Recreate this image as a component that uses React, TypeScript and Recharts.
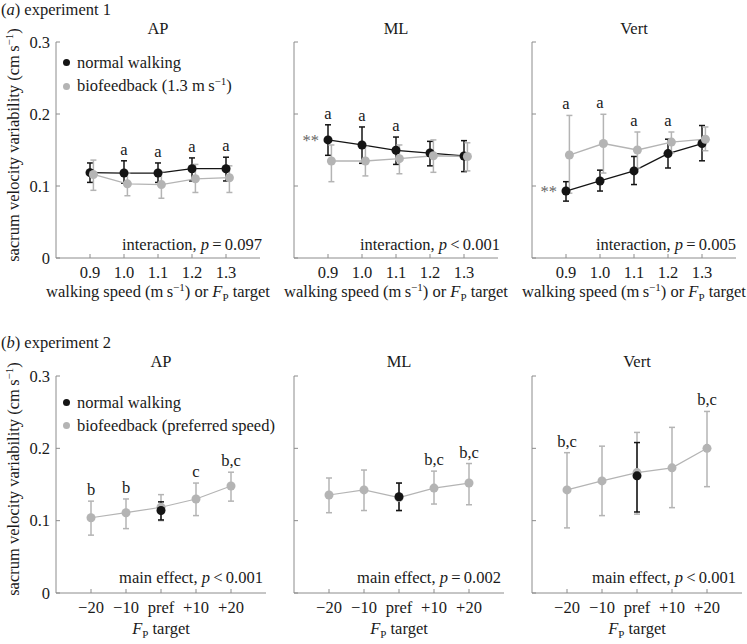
import React from 'react';
import { ComposedChart, Line, XAxis, YAxis, ErrorBar, ReferenceDot, Legend } from 'recharts';

const FONT = '"Liberation Serif", "Times New Roman", Times, serif';
const FS = 16.5;
const SUP = 11;
const BLACK = '#141414';
const GRAY = '#b4b4b4';
const AXIS = '#8c8c8c';
const TEXT = '#1a1a1a';

// ---------------- experiment 1 ----------------
const speeds = [0.9, 1.0, 1.1, 1.2, 1.3];
const speedTickLabels = ['0.9', '1.0', '1.1', '1.2', '1.3'];
const bioOffset = 0.01;

const apNormMean = [0.1185, 0.118, 0.118, 0.124, 0.124];
const apNormLo = [0.105, 0.104, 0.105, 0.107, 0.107];
const apNormHi = [0.132, 0.135, 0.132, 0.139, 0.14];
const apBioMean = [0.116, 0.103, 0.102, 0.11, 0.1115];
const apBioLo = [0.094, 0.0865, 0.083, 0.091, 0.091];
const apBioHi = [0.136, 0.118, 0.12, 0.13, 0.128];
const apLetters = ['', 'a', 'a', 'a', 'a'];

const mlNormMean = [0.164, 0.157, 0.1496, 0.1458, 0.1417];
const mlNormLo = [0.1426, 0.1315, 0.13, 0.128, 0.12];
const mlNormHi = [0.185, 0.182, 0.168, 0.162, 0.163];
const mlBioMean = [0.1347, 0.1347, 0.138, 0.142, 0.141];
const mlBioLo = [0.106, 0.114, 0.117, 0.119, 0.121];
const mlBioHi = [0.157, 0.155, 0.157, 0.164, 0.16];
const mlLetters = ['a', 'a', 'a', '', ''];

const vtNormMean = [0.093, 0.107, 0.121, 0.145, 0.159];
const vtNormLo = [0.079, 0.093, 0.102, 0.125, 0.135];
const vtNormHi = [0.106, 0.122, 0.141, 0.165, 0.184];
const vtBioMean = [0.143, 0.159, 0.15, 0.161, 0.165];
const vtBioLo = [0.09, 0.118, 0.125, 0.146, 0.149];
const vtBioHi = [0.198, 0.1996, 0.175, 0.175, 0.182];
const vtLetters = ['a', 'a', 'a', 'a', ''];

// ---------------- experiment 2 ----------------
const targets = [0, 1, 2, 3, 4];
const targetTickLabels = ['\u221220', '\u221210', 'pref', '+10', '+20'];
const prefTarget = [2];

const ap2BioMean = [0.104, 0.111, 0.1185, 0.13, 0.148];
const ap2BioLo = [0.08, 0.089, 0.1, 0.107, 0.127];
const ap2BioHi = [0.127, 0.13, 0.136, 0.152, 0.167];
const ap2NormMean = [0.114];
const ap2NormLo = [0.101];
const ap2NormHi = [0.126];
const ap2Letters = ['b', 'b', '', 'c', 'b,c'];

const ml2BioMean = [0.1355, 0.1425, 0.132, 0.145, 0.152];
const ml2BioLo = [0.111, 0.114, 0.114, 0.123, 0.122];
const ml2BioHi = [0.159, 0.17, 0.152, 0.1685, 0.179];
const ml2NormMean = [0.133];
const ml2NormLo = [0.114];
const ml2NormHi = [0.152];
const ml2Letters = ['', '', '', 'b,c', 'b,c'];

const vt2BioMean = [0.1425, 0.155, 0.1665, 0.173, 0.2];
const vt2BioLo = [0.09, 0.107, 0.109, 0.118, 0.147];
const vt2BioHi = [0.194, 0.203, 0.222, 0.229, 0.251];
const vt2NormMean = [0.162];
const vt2NormLo = [0.112];
const vt2NormHi = [0.208];
const vt2Letters = ['b,c', '', '', '', 'b,c'];

const yTicks = [0, 0.1, 0.2, 0.3];

type Row = { x: number; y: number; err: [number, number] };
function rows(xs: number[], mean: number[], lo: number[], hi: number[], dx = 0): Row[] {
  return xs.map((x, i) => ({ x: x + dx, y: mean[i], err: [mean[i] - lo[i], hi[i] - mean[i]] }));
}
function letterPoints(xs: number[], letters: string[], his: number[][]) {
  return xs
    .map((x, i) => ({ x, y: Math.max(...his.map((h) => (h[i] === undefined ? 0 : h[i]))), text: letters[i] }))
    .filter((p) => p.text !== '');
}

type Series = { name: string; color: string; data: Row[]; width: number };
type LegendItem = { label: React.ReactNode; color: string };

type PanelProps = {
  left: number;
  top: number;
  width: number;
  height: number;
  yAxisWidth: number;
  marginTop: number;
  marginRight: number;
  xAxisHeight: number;
  xDomain: [number, number];
  xTicks: number[];
  xTickLabels: string[];
  series: Series[];
  letters: { x: number; y: number; text: string }[];
  stars?: { x: number; y: number };
  showYLabels: boolean;
  legend?: { items: LegendItem[]; left: number; top: number };
};

function renderYTick(p: any, show: boolean) {
  const { x, y, payload } = p;
  const v = payload.value;
  const label = v === 0 ? '0' : String(Math.round(v * 10) / 10);
  return (
    <g>
      <line x1={x} x2={x + 4} y1={y} y2={y} stroke={AXIS} strokeWidth={1} />
      {show && (
        <text x={x - 6} y={y + 5.5} textAnchor="end" fontSize={FS} fontFamily={FONT} fill={TEXT}>
          {label}
        </text>
      )}
    </g>
  );
}

function renderXTick(p: any, ticks: number[], labels: string[]) {
  const { x, y, payload } = p;
  const idx = ticks.findIndex((t) => Math.abs(t - payload.value) < 1e-9);
  return (
    <g>
      <line x1={x} x2={x} y1={y} y2={y - 4} stroke={AXIS} strokeWidth={1} />
      <text x={x} y={y + 20} textAnchor="middle" fontSize={FS} fontFamily={FONT} fill={TEXT}>
        {idx >= 0 ? labels[idx] : ''}
      </text>
    </g>
  );
}

function LegendBox({ items }: { items: LegendItem[] }) {
  return (
    <div style={{ fontFamily: FONT, fontSize: FS, color: TEXT, lineHeight: '23px' }}>
      {items.map((it, i) => (
        <div key={i} style={{ display: 'flex', alignItems: 'center', whiteSpace: 'nowrap' }}>
          <span
            style={{
              width: 7,
              height: 7,
              borderRadius: '50%',
              background: it.color,
              display: 'inline-block',
              marginRight: 7,
            }}
          />
          <span>{it.label}</span>
        </div>
      ))}
    </div>
  );
}

function Panel(props: PanelProps) {
  const {
    left, top, width, height, yAxisWidth, marginTop, marginRight, xAxisHeight,
    xDomain, xTicks, xTickLabels, series, letters, stars, showYLabels, legend,
  } = props;
  return (
    <div style={{ position: 'absolute', left, top, width, height }}>
      <ComposedChart
        width={width}
        height={height}
        margin={{ top: marginTop, right: marginRight, bottom: 0, left: 0 }}
      >
        <XAxis
          type="number"
          dataKey="x"
          domain={xDomain}
          ticks={xTicks}
          interval={0}
          height={xAxisHeight}
          axisLine={{ stroke: AXIS, strokeWidth: 1 }}
          tickLine={false}
          tickSize={0}
          tickMargin={0}
          allowDataOverflow
          tick={(p: any) => renderXTick(p, xTicks, xTickLabels)}
        />
        <YAxis
          type="number"
          domain={[0, 0.3]}
          ticks={yTicks}
          interval={0}
          width={yAxisWidth}
          axisLine={{ stroke: AXIS, strokeWidth: 1 }}
          tickLine={false}
          tickSize={0}
          tickMargin={0}
          allowDataOverflow
          tick={(p: any) => renderYTick(p, showYLabels)}
        />
        {series.map((s) => (
          <Line
            key={s.name}
            name={s.name}
            data={s.data}
            dataKey="y"
            type="linear"
            stroke={s.color}
            strokeWidth={s.width}
            dot={{ r: 4.5, fill: s.color, stroke: s.color, strokeWidth: 0 }}
            activeDot={false}
            isAnimationActive={false}
            legendType="circle"
          >
            <ErrorBar
              dataKey="err"
              direction="y"
              width={3}
              stroke={s.color}
              strokeWidth={1.5}
              isAnimationActive={false}
            />
          </Line>
        ))}
        {letters.map((l, i) => (
          <ReferenceDot
            key={'l' + i}
            x={l.x}
            y={l.y}
            r={0}
            fill="none"
            stroke="none"
            label={{ value: l.text, position: 'top', offset: 6, fill: TEXT, fontSize: FS, fontFamily: FONT }}
          />
        ))}
        {stars && (
          <ReferenceDot
            x={stars.x}
            y={stars.y}
            r={0}
            fill="none"
            stroke="none"
            label={{ value: '**', position: 'left', offset: 9, fill: '#666', fontSize: FS, fontFamily: FONT }}
          />
        )}
        {legend && (
          <Legend
            layout="vertical"
            align="center"
            verticalAlign="middle"
            wrapperStyle={{ left: legend.left, top: legend.top, width: 'auto', height: 'auto' }}
            content={() => <LegendBox items={legend.items} />}
          />
        )}
      </ComposedChart>
    </div>
  );
}

const Sup = ({ children }: { children: React.ReactNode }) => (
  <sup style={{ fontSize: SUP, verticalAlign: 'baseline', position: 'relative', top: -6 }}>{children}</sup>
);

function YLabel({ cy }: { cy: number }) {
  return (
    <text
      transform={`translate(19, ${cy}) rotate(-90)`}
      textAnchor="middle"
      fontSize={FS}
      fontFamily={FONT}
      fill={TEXT}
    >
      sacrum velocity variability (cm{'\u2009'}s
      <tspan dy={-6} fontSize={SUP}>
        {'\u22121'}
      </tspan>
      <tspan dy={6}>)</tspan>
    </text>
  );
}

function XLabelTop({ cx, y }: { cx: number; y: number }) {
  return (
    <text x={cx} y={y} textAnchor="middle" fontSize={FS} fontFamily={FONT} fill={TEXT}>
      walking speed (m{'\u2009'}s
      <tspan dy={-6} fontSize={SUP}>
        {'\u22121'}
      </tspan>
      <tspan dy={6}>) or </tspan>
      <tspan fontStyle="italic">F</tspan>
      <tspan dy={4} fontSize={SUP}>
        P
      </tspan>
      <tspan dy={-4}> target</tspan>
    </text>
  );
}

function XLabelBottom({ cx, y }: { cx: number; y: number }) {
  return (
    <text x={cx} y={y} textAnchor="middle" fontSize={FS} fontFamily={FONT} fill={TEXT}>
      <tspan fontStyle="italic">F</tspan>
      <tspan dy={4} fontSize={SUP}>
        P
      </tspan>
      <tspan dy={-4}> target</tspan>
    </text>
  );
}

function Note({ x, y, lead, rel, val }: { x: number; y: number; lead: string; rel: string; val: string }) {
  return (
    <text x={x} y={y} textAnchor="end" fontSize={FS} fontFamily={FONT} fill={TEXT}>
      {lead}, <tspan fontStyle="italic">p</tspan>
      {'\u2009' + rel + '\u2009' + val}
    </text>
  );
}

export default function App() {
  const topCommon = { top: 0, height: 300, marginTop: 42, xAxisHeight: 42, xDomain: [0.8, 1.4] as [number, number], xTicks: speeds, xTickLabels: speedTickLabels };
  const botCommon = { top: 300, height: 340, marginTop: 76, xAxisHeight: 47, xDomain: [-1, 5] as [number, number], xTicks: targets, xTickLabels: targetTickLabels };

  const legendTop: LegendItem[] = [
    { label: 'normal walking', color: BLACK },
    { label: <>biofeedback (1.3 m{'\u2009'}s<Sup>{'\u22121'}</Sup>)</>, color: GRAY },
  ];
  const legendBottom: LegendItem[] = [
    { label: 'normal walking', color: BLACK },
    { label: 'biofeedback (preferred speed)', color: GRAY },
  ];

  return (
    <div style={{ position: 'absolute', left: 0, top: 0, width: 747, height: 644, background: '#fff', overflow: 'hidden' }}>
      {/* experiment 1 */}
      <Panel
        {...topCommon}
        left={0}
        width={270}
        yAxisWidth={56}
        marginRight={10}
        showYLabels
        series={[
          { name: 'normal walking', color: BLACK, width: 1.3, data: rows(speeds, apNormMean, apNormLo, apNormHi) },
          { name: 'biofeedback (1.3 m s-1)', color: GRAY, width: 1.3, data: rows(speeds, apBioMean, apBioLo, apBioHi, bioOffset) },
        ]}
        letters={letterPoints(speeds, apLetters, [apNormHi, apBioHi])}
        legend={{ items: legendTop, left: 63, top: 51 }}
      />
      <Panel
        {...topCommon}
        left={240}
        width={270}
        yAxisWidth={54}
        marginRight={12}
        showYLabels={false}
        series={[
          { name: 'normal walking', color: BLACK, width: 1.3, data: rows(speeds, mlNormMean, mlNormLo, mlNormHi) },
          { name: 'biofeedback', color: GRAY, width: 1.3, data: rows(speeds, mlBioMean, mlBioLo, mlBioHi, bioOffset) },
        ]}
        letters={letterPoints(speeds, mlLetters, [mlNormHi, mlBioHi])}
        stars={{ x: speeds[0], y: mlNormMean[0] }}
      />
      <Panel
        {...topCommon}
        left={480}
        width={267}
        yAxisWidth={52}
        marginRight={11}
        showYLabels={false}
        series={[
          { name: 'normal walking', color: BLACK, width: 1.3, data: rows(speeds, vtNormMean, vtNormLo, vtNormHi) },
          { name: 'biofeedback', color: GRAY, width: 1.3, data: rows(speeds, vtBioMean, vtBioLo, vtBioHi, bioOffset) },
        ]}
        letters={letterPoints(speeds, vtLetters, [vtNormHi, vtBioHi])}
        stars={{ x: speeds[0], y: vtNormMean[0] }}
      />

      {/* experiment 2 */}
      <Panel
        {...botCommon}
        left={0}
        width={270}
        yAxisWidth={56}
        marginRight={4}
        showYLabels
        series={[
          { name: 'biofeedback (preferred speed)', color: GRAY, width: 1.2, data: rows(targets, ap2BioMean, ap2BioLo, ap2BioHi) },
          { name: 'normal walking', color: BLACK, width: 1.3, data: rows(prefTarget, ap2NormMean, ap2NormLo, ap2NormHi) },
        ]}
        letters={letterPoints(targets, ap2Letters, [ap2BioHi])}
        legend={{ items: legendBottom, left: 63, top: 91 }}
      />
      <Panel
        {...botCommon}
        left={240}
        width={270}
        yAxisWidth={54}
        marginRight={6}
        showYLabels={false}
        series={[
          { name: 'biofeedback', color: GRAY, width: 1.2, data: rows(targets, ml2BioMean, ml2BioLo, ml2BioHi) },
          { name: 'normal walking', color: BLACK, width: 1.3, data: rows(prefTarget, ml2NormMean, ml2NormLo, ml2NormHi) },
        ]}
        letters={letterPoints(targets, ml2Letters, [ml2BioHi])}
      />
      <Panel
        {...botCommon}
        left={480}
        width={267}
        yAxisWidth={52}
        marginRight={5}
        showYLabels={false}
        series={[
          { name: 'biofeedback', color: GRAY, width: 1.2, data: rows(targets, vt2BioMean, vt2BioLo, vt2BioHi) },
          { name: 'normal walking', color: BLACK, width: 1.3, data: rows(prefTarget, vt2NormMean, vt2NormLo, vt2NormHi) },
        ]}
        letters={letterPoints(targets, vt2Letters, [vt2BioHi])}
      />

      {/* text overlay */}
      <svg width={747} height={644} style={{ position: 'absolute', left: 0, top: 0, pointerEvents: 'none' }}>
        <text x={1} y={15} fontSize={FS} fontFamily={FONT} fill={TEXT}>
          (<tspan fontStyle="italic">a</tspan>) experiment 1
        </text>
        <text x={1} y={348} fontSize={FS} fontFamily={FONT} fill={TEXT}>
          (<tspan fontStyle="italic">b</tspan>) experiment 2
        </text>

        {[{ t: 'AP', x: 158 }, { t: 'ML', x: 396 }, { t: 'Vert', x: 634 }].map((d) => (
          <text key={'tt' + d.t} x={d.x} y={34} textAnchor="middle" fontSize={FS} fontFamily={FONT} fill={TEXT}>
            {d.t}
          </text>
        ))}
        {[{ t: 'AP', x: 161 }, { t: 'ML', x: 399 }, { t: 'Vert', x: 637 }].map((d) => (
          <text key={'tb' + d.t} x={d.x} y={367} textAnchor="middle" fontSize={FS} fontFamily={FONT} fill={TEXT}>
            {d.t}
          </text>
        ))}

        <YLabel cy={145} />
        <YLabel cy={479} />

        <XLabelTop cx={158} y={297} />
        <XLabelTop cx={396} y={297} />
        <XLabelTop cx={634} y={297} />
        <XLabelBottom cx={161} y={634} />
        <XLabelBottom cx={399} y={634} />
        <XLabelBottom cx={637} y={634} />

        <Note x={262} y={250} lead="interaction" rel="=" val="0.097" />
        <Note x={500} y={250} lead="interaction" rel="<" val="0.001" />
        <Note x={736} y={250} lead="interaction" rel="=" val="0.005" />
        <Note x={263} y={583} lead="main effect" rel="<" val="0.001" />
        <Note x={501} y={583} lead="main effect" rel="=" val="0.002" />
        <Note x={736} y={583} lead="main effect" rel="<" val="0.001" />
      </svg>
    </div>
  );
}
